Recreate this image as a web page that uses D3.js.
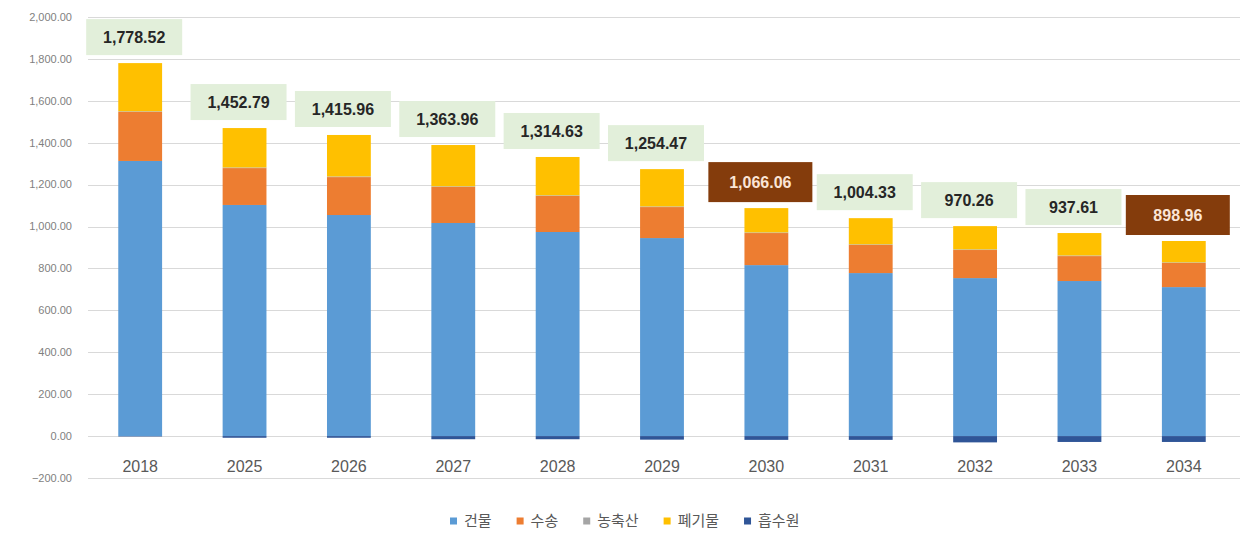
<!DOCTYPE html>
<html>
<head>
<meta charset="utf-8">
<script src="https://cdn.jsdelivr.net/npm/d3@7"></script>
<style>
  body { margin: 0; background: #fff; }
  svg { display: block; }
</style>
</head>
<body>
<script>
(function(){
   var width = 1242;
   var height = 536;

   // data
   var years = ["2018", "2025", "2026", "2027", "2028", "2029", "2030", "2031", "2032", "2033", "2034"];
   var building = [1313, 1103, 1055, 1017, 974, 945, 816, 778, 754, 740, 711];
   var transport = [234, 176, 181, 172, 172, 148, 153, 134, 134, 119, 115];
   var agri = [3, 3, 3, 3, 3, 3, 3, 3, 3, 3, 3];
   var waste = [230, 188, 198, 197, 183, 178, 116, 125, 111, 107, 102];
   var sink = [-2, -8, -8, -15, -15, -17, -18, -18, -30, -28, -28];
   var totals = ["1,778.52", "1,452.79", "1,415.96", "1,363.96", "1,314.63", "1,254.47", "1,066.06", "1,004.33", "970.26", "937.61", "898.96"];
   var highlighted = ["2030", "2034"];
   var yTicks = [-200, 0, 200, 400, 600, 800, 1000, 1200, 1400, 1600, 1800, 2000];

   var seriesKeys = ["건물", "수송", "농축산", "폐기물", "흡수원"];
   var seriesColors = ["#5b9bd5", "#ed7d31", "#a5a5a5", "#ffc000", "#2f5597"];

   var rows = years.map(function(y, i){
       return {year: y, "건물": building[i], "수송": transport[i], "농축산": agri[i], "폐기물": waste[i], "흡수원": sink[i]};
   });

   var svg = d3.select("body").append("svg")
       .attr("width", width)
       .attr("height", height);

   var xScale = d3.scaleBand()
       .domain(years)
       .range([88, 1236])
       .paddingInner(0.58)
       .paddingOuter(0.29);

   var yScale = d3.scaleLinear()
       .domain([-200, 2000])
       .range([478, 17]);

   var fmt = d3.format(",.2f");

   // gridlines
   svg.append("g")
       .selectAll("line")
       .data(yTicks)
       .join("line")
       .attr("x1", 88)
       .attr("x2", 1240)
       .attr("y1", (d) => { return Math.round(yScale(d)) + 0.5; })
       .attr("y2", (d) => { return Math.round(yScale(d)) + 0.5; })
       .attr("stroke", "#d9d9d9")
       .attr("stroke-width", 1);

   // y axis labels
   svg.append("g")
       .selectAll("text")
       .data(yTicks)
       .join("text")
       .attr("x", 72)
       .attr("y", (d) => { return yScale(d); })
       .attr("dy", "0.35em")
       .attr("text-anchor", "end")
       .attr("font-family", "'Liberation Sans', Arial, sans-serif")
       .attr("font-size", 11)
       .attr("fill", "#7f7f7f")
       .text((d) => { return fmt(d); });

   // stacked bars
   var stack = d3.stack()
       .keys(seriesKeys)
       .offset(d3.stackOffsetDiverging);
   var layers = stack(rows);

   svg.append("g")
       .selectAll("g")
       .data(layers)
       .join("g")
       .attr("fill", (d, i) => { return seriesColors[i]; })
       .selectAll("rect")
       .data((d) => { return d; })
       .join("rect")
       .attr("x", (d) => { return xScale(d.data.year); })
       .attr("width", xScale.bandwidth())
       .attr("y", (d) => { return yScale(Math.max(d[0], d[1])); })
       .attr("height", (d) => { return Math.abs(yScale(d[0]) - yScale(d[1])); });

   // x labels
   svg.append("g")
       .selectAll("text")
       .data(years)
       .join("text")
       .attr("x", (d) => { return xScale(d) + xScale.bandwidth() / 2; })
       .attr("y", 466)
       .attr("dy", "0.35em")
       .attr("text-anchor", "middle")
       .attr("font-family", "'Liberation Sans', Arial, sans-serif")
       .attr("font-size", 16)
       .attr("fill", "#595959")
       .text((d) => { return d; });

   // total labels
   var isHi = (d) => { return highlighted.indexOf(d.year) >= 0; };
   var labels = svg.append("g")
       .selectAll("g")
       .data(rows)
       .join("g")
       .attr("transform", (d, i) => {
           var top = d["건물"] + d["수송"] + d["농축산"] + d["폐기물"];
           return "translate(" + (xScale(d.year) + xScale.bandwidth() / 2 - 6) + "," + (yScale(top) - 26) + ")";
       });

   labels.append("rect")
       .attr("x", (d) => { return isHi(d) ? -52 : -48; })
       .attr("y", (d) => { return isHi(d) ? -20 : -18; })
       .attr("width", (d) => { return isHi(d) ? 104 : 96; })
       .attr("height", (d) => { return isHi(d) ? 40 : 36; })
       .attr("fill", (d) => { return isHi(d) ? "#843c0c" : "#e2efda"; });

   labels.append("text")
       .attr("text-anchor", "middle")
       .attr("dy", "0.35em")
       .attr("font-family", "'Liberation Sans', Arial, sans-serif")
       .attr("font-weight", "bold")
       .attr("font-size", 16)
       .attr("fill", (d) => { return isHi(d) ? "#fbe5d6" : "#262626"; })
       .text((d, i) => { return totals[i]; });

   // legend
   var legend = svg.append("g").attr("transform", "translate(0,521)");
   var lx = 450;
   seriesKeys.forEach((k, i) => {
       legend.append("rect")
           .attr("x", lx)
           .attr("y", -3.5)
           .attr("width", 7)
           .attr("height", 7)
           .attr("fill", seriesColors[i]);
       var t = legend.append("text")
           .attr("x", lx + 14)
           .attr("dy", "0.35em")
           .attr("font-family", "'Noto Sans CJK KR', sans-serif")
           .attr("font-size", 15)
           .attr("fill", "#595959")
           .text(k);
       lx += 14 + t.node().getComputedTextLength() + 25;
   });
})();
</script>
</body>
</html>
